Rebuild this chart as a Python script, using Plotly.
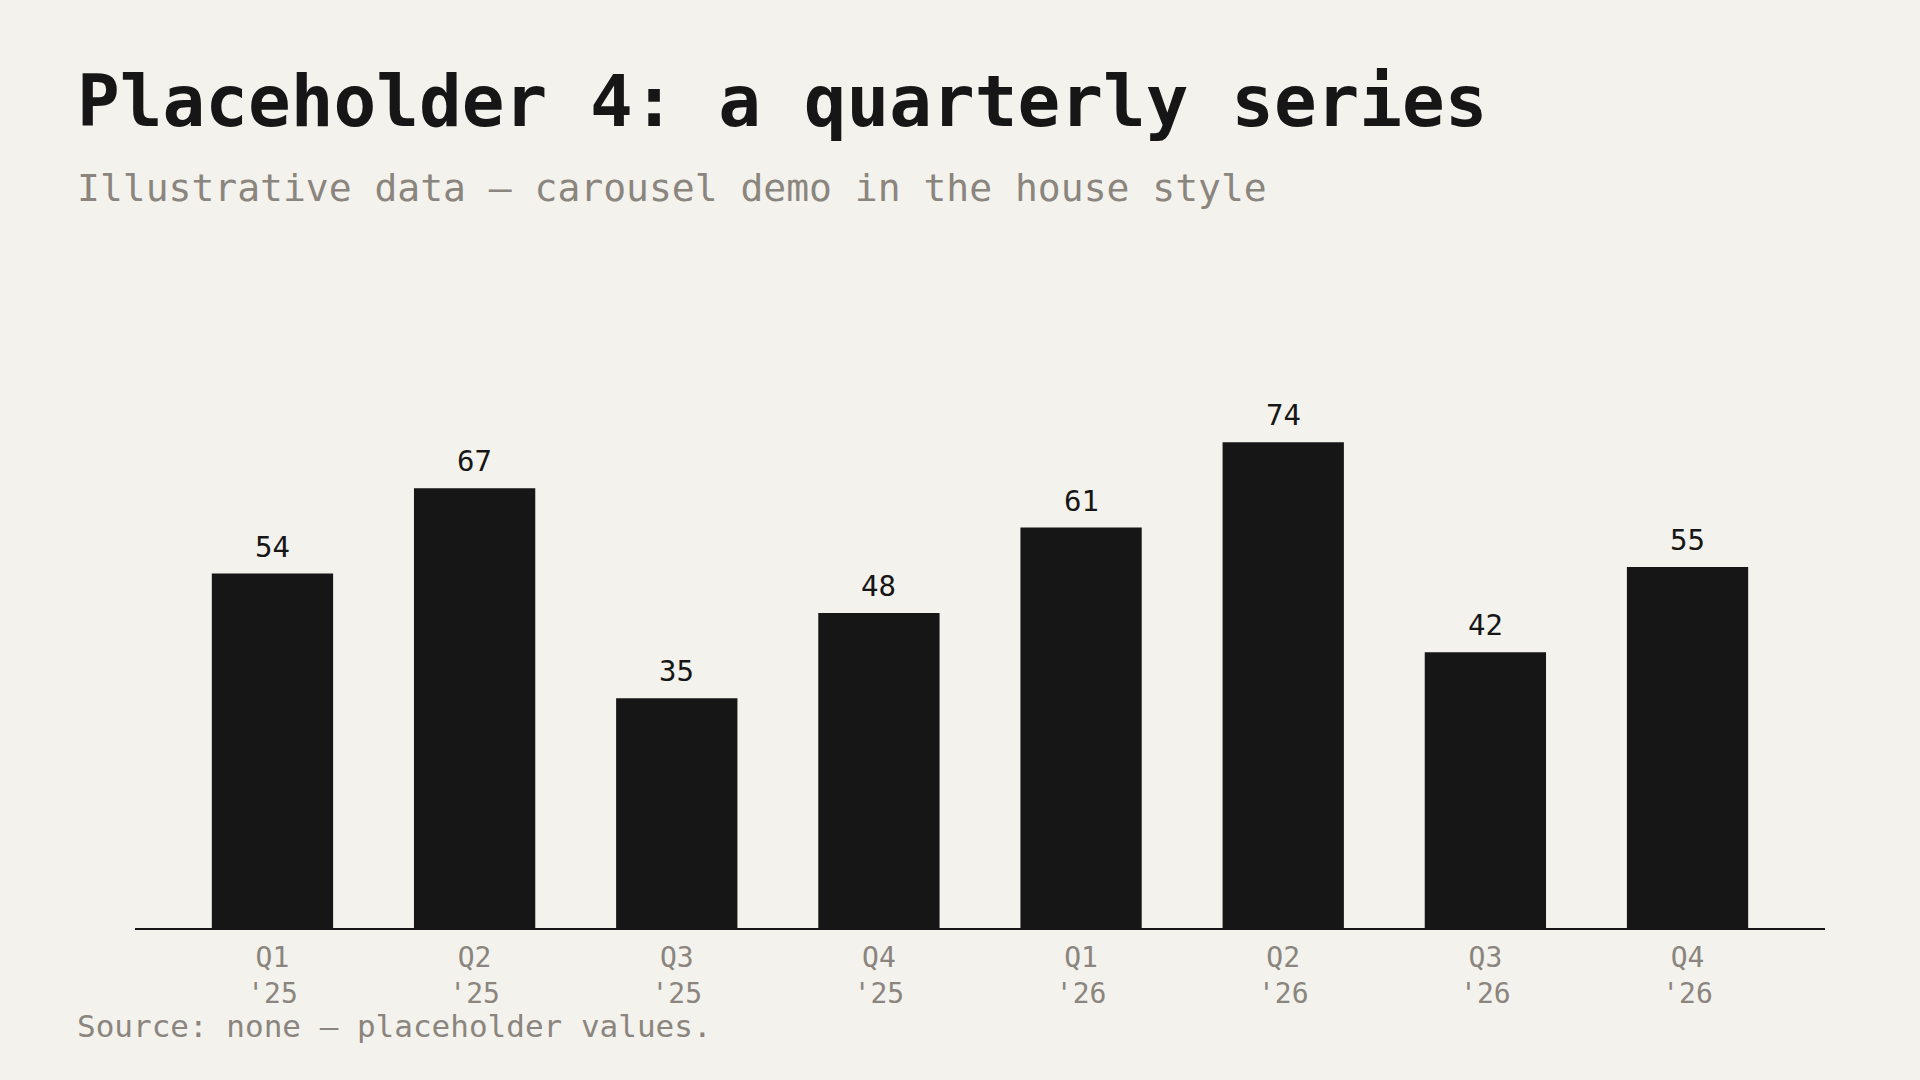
import plotly.graph_objects as go

quarters = ["Q1<br>'25", "Q2<br>'25", "Q3<br>'25", "Q4<br>'25",
            "Q1<br>'26", "Q2<br>'26", "Q3<br>'26", "Q4<br>'26"]
values = [54, 67, 35, 48, 61, 74, 42, 55]

title = "Placeholder 4: a quarterly series"
subtitle = "Illustrative data — carousel demo in the house style"
source = "Source: none — placeholder values."

INK = "#161616"
GREY = "#8a857e"
BG = "#f4f2ec"
FONT = "DejaVu Sans Mono"
LEFT = -0.0357  # text column, left of the plot area

fig = go.Figure(go.Bar(x=quarters, y=values, marker_color=INK,
                       marker_line_width=0, hoverinfo="skip"))

# value labels above each bar
for q, v in zip(quarters, values):
    fig.add_annotation(x=q, y=v, text=str(v), showarrow=False,
                       yanchor="bottom", yshift=8,
                       font=dict(family=FONT, size=29, color=INK))

fig.add_annotation(text=f"<b>{title}</b>", xref="paper", yref="paper",
                   x=LEFT, y=1.481, xanchor="left", yanchor="middle",
                   showarrow=False, font=dict(family=FONT, size=71, color=INK))
fig.add_annotation(text=subtitle, xref="paper", yref="paper",
                   x=LEFT, y=1.326, xanchor="left", yanchor="middle",
                   showarrow=False, font=dict(family=FONT, size=38, color=GREY))
fig.add_annotation(text=source, xref="paper", yref="paper",
                   x=LEFT, y=-0.1756, xanchor="left", yanchor="middle",
                   showarrow=False, font=dict(family=FONT, size=31, color=GREY))

fig.update_layout(
    width=1920, height=1080,
    paper_bgcolor=BG, plot_bgcolor=BG,
    margin=dict(l=135, r=95, t=370, b=152),
    bargap=0.4,
    showlegend=False,
    font=dict(family=FONT, color=INK),
)
fig.update_xaxes(range=[-0.68, 7.68], showline=True, linecolor=INK,
                 linewidth=2, ticks="", showgrid=False, zeroline=False,
                 ticklabelstandoff=3,
                 tickfont=dict(family=FONT, size=28, color=GREY))
fig.update_yaxes(range=[0, 85], visible=False, showgrid=False)

# drop the browser's default page margin so the chart fills the window
fig.write_html("out.html", config={"displayModeBar": False},
               post_script="document.body.style.margin='0';")
